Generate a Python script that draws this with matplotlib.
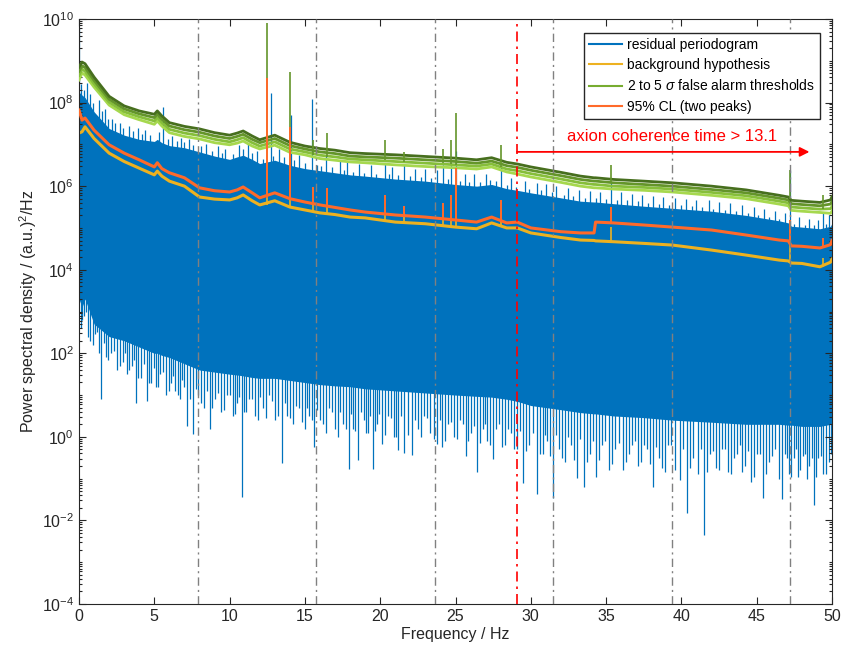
import numpy as np
import matplotlib
matplotlib.use("Agg")
import matplotlib.pyplot as plt
from matplotlib.lines import Line2D
from matplotlib.ticker import LogLocator, NullFormatter

plt.rcParams['font.family'] = ['Liberation Sans', 'DejaVu Sans']
plt.rcParams['mathtext.fontset'] = 'custom'
plt.rcParams['mathtext.rm'] = 'Liberation Sans'
plt.rcParams['mathtext.it'] = 'Liberation Sans:italic'

# ---------------- data (log10 of PSD) ----------------
freq_knots = [0, 0.2, 0.4, 1, 2, 3, 4, 5, 5.2, 5.5, 6, 7, 8, 9, 10, 10.5, 10.9, 11.5, 12, 13,
              14, 15, 16, 17, 18, 19, 21, 23, 25, 26.4, 27.4, 28.4, 29.1, 30, 32, 33.3, 34.2, 34.3,
              35.5, 37.5, 39.4, 42, 44.3, 46.5, 47.1, 47.3, 48, 49.2, 49.9, 50]

cl95_log = [7.82, 7.58, 7.63, 7.34, 6.99, 6.79, 6.63, 6.46, 6.56, 6.42, 6.32, 6.20, 5.96, 5.89, 5.86,
            5.91, 5.98, 5.84, 5.72, 5.84, 5.70, 5.62, 5.55, 5.49, 5.43, 5.38, 5.31, 5.26, 5.19, 5.14,
            5.26, 5.12, 5.14, 5.00, 4.91, 4.88, 4.88, 5.14, 5.12, 5.07, 5.02, 4.95, 4.83, 4.71, 4.69,
            4.57, 4.56, 4.52, 4.60, 4.70]

background_log = [7.27, 7.30, 7.42, 7.14, 6.79, 6.59, 6.43, 6.27, 6.36, 6.24, 6.12, 6.00, 5.74, 5.69,
                  5.67, 5.72, 5.79, 5.65, 5.55, 5.65, 5.50, 5.43, 5.36, 5.32, 5.26, 5.24, 5.14, 5.10,
                  5.02, 4.98, 5.12, 5.00, 5.00, 4.88, 4.77, 4.71, 4.70, 4.69, 4.67, 4.63, 4.59, 4.47,
                  4.35, 4.23, 4.21, 4.16, 4.15, 4.07, 4.18, 4.25]

thr5_log = [8.85, 8.97, 8.93, 8.61, 8.15, 7.92, 7.80, 7.72, 7.80, 7.68, 7.52, 7.43, 7.37, 7.28, 7.22,
            7.27, 7.32, 7.20, 7.11, 7.22, 7.05, 6.96, 6.90, 6.86, 6.80, 6.78, 6.75, 6.71, 6.67, 6.63,
            6.68, 6.57, 6.53, 6.46, 6.33, 6.24, 6.20, 6.20, 6.16, 6.12, 6.08, 6.00, 5.91, 5.78, 5.74,
            5.66, 5.64, 5.61, 5.67, 5.75]
thr4_log = [8.75, 8.88, 8.84, 8.53, 8.08, 7.85, 7.73, 7.64, 7.72, 7.60, 7.44, 7.35, 7.29, 7.20, 7.14,
            7.19, 7.24, 7.12, 7.04, 7.14, 6.97, 6.89, 6.82, 6.78, 6.72, 6.70, 6.67, 6.63, 6.59, 6.55,
            6.60, 6.49, 6.45, 6.38, 6.25, 6.16, 6.12, 6.12, 6.08, 6.04, 6.00, 5.92, 5.84, 5.71, 5.67,
            5.58, 5.56, 5.53, 5.57, 5.63]
thr3_log = [8.65, 8.80, 8.75, 8.45, 8.01, 7.78, 7.66, 7.56, 7.64, 7.52, 7.36, 7.27, 7.21, 7.12, 7.06,
            7.11, 7.16, 7.04, 6.96, 7.06, 6.89, 6.82, 6.74, 6.70, 6.65, 6.63, 6.59, 6.55, 6.51, 6.48,
            6.53, 6.41, 6.37, 6.30, 6.17, 6.08, 6.04, 6.04, 6.00, 5.97, 5.93, 5.85, 5.77, 5.64, 5.60,
            5.50, 5.48, 5.45, 5.46, 5.51]
thr2_log = [8.54, 8.71, 8.66, 8.37, 7.94, 7.71, 7.59, 7.48, 7.56, 7.44, 7.28, 7.19, 7.13, 7.04, 6.99,
            7.03, 7.08, 6.96, 6.89, 6.98, 6.81, 6.75, 6.66, 6.62, 6.58, 6.56, 6.51, 6.47, 6.44, 6.41,
            6.46, 6.34, 6.29, 6.22, 6.09, 6.00, 5.96, 5.96, 5.93, 5.90, 5.86, 5.78, 5.70, 5.57, 5.53,
            5.42, 5.40, 5.37, 5.35, 5.40]

pgram_top_log = [8.25, 8.18, 8.12, 7.78, 7.38, 7.22, 7.12, 7.07, 7.12, 7.04, 6.97, 6.92, 6.82, 6.72,
                 6.64, 6.70, 6.74, 6.64, 6.54, 6.62, 6.50, 6.42, 6.37, 6.32, 6.27, 6.24, 6.17, 6.12,
                 6.04, 6.00, 6.04, 5.94, 5.90, 5.84, 5.72, 5.64, 5.62, 5.62, 5.58, 5.52, 5.47, 5.40,
                 5.30, 5.17, 5.12, 5.04, 5.02, 4.98, 5.04, 5.12]
pgram_bottom_log = [3.3, 3.1, 3.3, 2.7, 2.4, 2.3, 2.15, 2.0, 2.0, 1.95, 1.9, 1.75, 1.6, 1.55, 1.5,
                    1.48, 1.46, 1.42, 1.4, 1.4, 1.35, 1.3, 1.25, 1.22, 1.2, 1.15, 1.1, 1.05, 1.0, 0.97,
                    0.95, 0.9, 0.85, 0.75, 0.65, 0.58, 0.55, 0.55, 0.5, 0.46, 0.4, 0.35, 0.3, 0.3, 0.28,
                    0.28, 0.25, 0.25, 0.3, 0.3]

# upward needles of the periodogram
up_f = [0.0, 0.12, 0.5, 0.75, 1.3, 1.7, 2.2, 2.7, 3.3, 3.9, 4.4, 5.6, 6.2, 6.8, 7.3, 8.4, 9.2, 9.7,
        10.6, 11.2, 11.8, 12.73, 13.3, 14.05, 14.6, 15.5, 16.4, 17.3, 17.8, 18.6, 19.4, 20.3, 20.8,
        21.6, 22.3, 23.0, 23.8, 24.2, 24.7, 25.0, 25.6, 26.2, 27.0, 28.0, 28.7, 29.6, 30.4, 31.0,
        31.7, 32.5, 33.2, 33.9, 34.6, 35.3, 36.0, 36.7, 37.4, 38.1, 38.8, 39.6, 40.3, 41.0, 41.8,
        42.5, 43.2, 44.0, 44.8, 45.5, 46.2, 46.9, 47.2, 47.8, 48.5, 49.1, 49.4, 49.8]
up_log = [9.78, 8.45, 8.47, 8.2, 8.05, 7.85, 7.6, 7.5, 7.45, 7.38, 7.35, 7.89, 7.2, 7.15, 7.12, 7.0,
          6.95, 6.9, 6.98, 7.0, 6.85, 8.23, 6.9, 7.70, 6.75, 8.09, 6.75, 6.6, 6.58, 6.52, 6.5, 6.55,
          6.45, 6.5, 6.42, 6.4, 6.38, 6.5, 6.55, 6.85, 6.3, 6.28, 6.3, 6.45, 6.2, 6.12, 6.08, 6.05,
          6.0, 5.95, 5.9, 5.88, 5.85, 6.1, 5.85, 5.82, 5.8, 5.76, 5.74, 5.72, 5.7, 5.68, 5.66, 5.62,
          5.6, 5.55, 5.5, 5.45, 5.4, 5.35, 6.39, 5.25, 5.22, 5.2, 5.35, 5.3]
up2_f = [0.3, 0.9, 1.5, 1.9, 2.4, 2.9, 3.6, 4.2, 4.7, 5.3, 5.9, 6.5, 7.0, 7.6, 8.1, 8.8, 9.5, 10.2,
         10.9, 11.5, 12.2, 12.9, 13.6, 14.3, 15.0, 15.8, 16.1, 16.8, 17.6, 18.2, 18.9, 19.7, 20.6,
         21.2, 22.0, 22.7, 23.4, 24.5, 25.3, 25.9, 26.6, 27.3, 27.7, 28.4, 29.0, 29.9, 30.7, 31.4,
         32.2, 32.8, 33.6, 34.3, 35.0, 35.7, 36.4, 37.1, 37.8, 38.5, 39.2, 40.0, 40.7, 41.4, 42.1,
         42.9, 43.6, 44.4, 45.1, 45.8, 46.5, 47.5, 48.2, 48.8, 49.6]
up2_log = [8.3, 8.0, 7.8, 7.6, 7.5, 7.38, 7.32, 7.25, 7.22, 7.3, 7.12, 7.08, 7.05, 6.98, 6.95, 6.85,
           6.8, 6.78, 6.9, 6.8, 6.65, 6.72, 6.7, 6.62, 6.55, 6.5, 6.48, 6.45, 6.38, 6.35, 6.32, 6.3,
           6.28, 6.27, 6.24, 6.22, 6.2, 6.18, 6.12, 6.1, 6.1, 6.14, 6.12, 6.02, 5.98, 5.92, 5.9,
           5.85, 5.8, 5.76, 5.72, 5.72, 5.7, 5.68, 5.66, 5.64, 5.6, 5.58, 5.56, 5.54, 5.52, 5.5,
           5.46, 5.44, 5.4, 5.36, 5.3, 5.26, 5.22, 5.1, 5.08, 5.06, 5.1]

# downward needles of the periodogram (deep ones)
down_f = [0.1, 0.3, 0.6, 0.9, 1.2, 1.46, 1.8, 2.1, 2.5, 2.9, 3.2, 3.5, 3.8, 4.1, 4.5, 4.8, 5.1, 5.4,
          5.8, 6.1, 6.4, 6.7, 7.0, 7.2, 7.6, 7.9, 8.3, 8.7, 9.0, 9.4, 9.8, 10.2, 10.5, 10.8, 11.1,
          11.5, 11.9, 12.2, 12.6, 13.0, 13.5, 13.8, 14.2, 14.6, 15.0, 15.3, 15.6, 16.0, 16.4, 16.8,
          17.2, 17.5, 17.9, 18.2, 18.5, 18.9, 19.2, 19.5, 19.8, 20.1, 20.5, 20.9, 21.2, 21.6, 22.1,
          22.5, 22.9, 23.3, 23.8, 24.1, 24.5, 24.9, 25.3, 25.7, 26.0, 26.4, 26.8, 27.1, 27.5, 27.9,
          28.3, 28.7, 29.1, 29.5, 29.9, 30.4, 30.8, 31.1, 31.5, 31.9, 32.3, 32.7, 33.1, 33.5, 33.9,
          34.3, 34.7, 35.2, 35.6, 36.1, 36.5, 36.9, 37.3, 37.7, 38.1, 38.5, 38.9, 39.3, 39.9, 40.4,
          40.8, 41.1, 41.5, 41.9, 42.3, 42.7, 43.1, 43.5, 43.9, 44.2, 44.6, 45.0, 45.4, 45.8, 46.2,
          46.7, 47.0, 47.3, 47.6, 47.9, 48.2, 48.5, 48.8, 49.1, 49.4, 49.8]
down_log = [2.6, 2.9, 2.4, 2.2, 2.5, 0.91, 1.9, 2.0, 1.6, 1.8, 1.5, 1.7, 0.82, 1.4, 0.86, 1.3, 1.2,
            1.5, 1.0, 1.3, 1.1, 0.9, 1.2, 0.27, 0.08, 1.0, 0.7, 0.2, 0.9, 0.6, 1.0, 0.5, 0.8, -1.44,
            0.6, 0.9, 0.4, 0.7, 1.0, 0.4, -0.62, 0.5, 0.3, 0.7, 0.2, 0.5, -0.25, 0.4, 0.1, 0.6, 0.0,
            0.3, -0.77, 0.2, -0.55, 0.4, 0.1, -0.77, 0.3, -0.16, 0.5, 0.0, -0.32, -0.39, -0.44, 0.2,
            0.5, 0.1, -0.16, -0.25, 0.3, 0.0, 0.4, -0.45, 0.1, -0.84, 0.2, -0.1, -0.54, 0.3, -0.2,
            0.1, -0.3, -1.1, -0.2, -1.36, -0.4, -0.1, -1.46, -0.3, -0.6, -0.2, -0.98, -1.2, -0.4,
            -0.97, -0.2, -0.8, -0.3, -0.8, -0.4, -0.1, -0.6, -0.3, -1.2, -0.5, -0.85, -0.2, -1.03,
            -1.82, -0.5, -0.9, -2.36, -0.4, -0.75, -0.3, -0.85, -0.5, -0.2, -0.7, -1.08, -0.4, -1.46,
            -0.6, -0.3, -1.49, -0.5, -0.95, -0.3, -0.8, -0.4, -0.7, -1.63, -0.5, -0.9, -0.6]
# shallow downward needles (fringe)
down2_f = [0.2, 0.45, 0.75, 1.05, 1.35, 1.65, 1.95, 2.3, 2.7, 3.05, 3.35, 3.65, 3.95, 4.3, 4.65,
           4.95, 5.25, 5.6, 5.95, 6.25, 6.55, 6.85, 7.4, 7.75, 8.1, 8.5, 8.85, 9.2, 9.6, 10.0, 10.35,
           10.65, 10.95, 11.3, 11.7, 12.05, 12.4, 12.8, 13.2, 13.65, 14.0, 14.4, 14.8, 15.15, 15.45,
           15.8, 16.2, 16.6, 17.0, 17.35, 17.7, 18.05, 18.35, 18.7, 19.05, 19.35, 19.65, 19.95, 20.3,
           20.7, 21.05, 21.4, 21.85, 22.3, 22.7, 23.1, 23.55, 23.95, 24.3, 24.7, 25.1, 25.5, 25.85,
           26.2, 26.6, 26.95, 27.3, 27.7, 28.1, 28.5, 28.9, 29.3, 29.7, 30.15, 30.6, 30.95, 31.3,
           31.7, 32.1, 32.5, 32.9, 33.3, 33.7, 34.1, 34.5, 34.95, 35.4, 35.85, 36.3, 36.7, 37.1,
           37.5, 37.9, 38.3, 38.7, 39.1, 39.6, 40.1, 40.6, 41.3, 41.7, 42.1, 42.5, 42.9, 43.3, 43.7,
           44.05, 44.4, 44.8, 45.2, 45.6, 46.0, 46.45, 46.9, 47.15, 47.45, 47.75, 48.05, 48.35,
           48.65, 48.95, 49.25, 49.6, 49.95]
down2_log = [2.8, 3.0, 2.3, 2.45, 2.0, 2.25, 1.85, 2.05, 1.7, 2.0,
             1.6, 1.85, 1.4, 1.75, 1.3, 1.65, 1.2, 1.55, 1.1, 1.45,
             1.0, 1.35, 0.9, 1.15, 0.8, 1.1, 0.7, 1.05, 0.65, 1.0,
             0.55, 0.95, 0.6, 0.9, 0.5, 0.95, 0.45, 0.85, 0.5, 0.8,
             0.45, 0.75, 0.35, 0.7, 0.4, 0.65, 0.3, 0.7, 0.2, 0.6,
             0.2, 0.55, 0.15, 0.6, 0.1, 0.5, 0.15, 0.55, 0.05, 0.45,
             0.0, 0.5, 0.05, 0.4, 0.0, 0.45, -0.05, 0.4, -0.1, 0.35,
             -0.05, 0.3, -0.1, 0.25, -0.15, 0.3, -0.2, 0.2, -0.25, 0.2,
             -0.3, 0.15, -0.35, 0.1, -0.4, 0.05, -0.45, 0.05, -0.5, 0.0,
             -0.55, -0.05, -0.6, -0.1, -0.55, -0.1, -0.65, -0.15, -0.6, -0.2,
             -0.7, -0.2, -0.65, -0.25, -0.75, -0.2, -0.8, -0.3, -0.75, -0.3,
             -0.85, -0.35, -0.8, -0.3, -0.9, -0.4, -0.85, -0.35, -0.95, -0.4,
             -0.9, -0.45, -1.0, -0.4, -0.9, -0.5, -0.95, -0.45, -1.0, -0.5,
             -0.95, -0.45, -0.9, -0.4]

# narrow line peaks (frequency, base and top in each curve)
peak_f = [12.46, 14.0, 15.55, 16.5, 20.3, 21.6, 24.2, 24.7, 25.0, 28.0, 35.3, 47.2, 49.4]
peak_thr_top = [9.90, 8.73, 7.10, 7.27, 7.11, 6.82, 6.89, 7.11, 7.75, 6.99, 6.51, 6.39, 5.80]
peak_thr_base = [7.0, 7.05, 6.75, 6.70, 6.62, 6.57, 6.55, 6.52, 6.50, 6.45, 6.10, 5.70, 5.45]
peak_cl_top = [8.59, 7.42, 5.98, 5.96, 5.79, 5.53, 5.60, 5.79, 6.44, 5.67, 5.50, 5.20, 4.76]
peak_cl_base = [5.72, 5.70, 5.58, 5.53, 5.33, 5.30, 5.22, 5.20, 5.19, 5.16, 5.12, 4.66, 4.52]
peak_bg_top = [8.30, 7.20, 5.70, 5.70, 5.50, 5.30, 5.35, 5.50, 6.10, 5.40, 5.02, 5.00, 4.28]
peak_bg_base = [5.55, 5.50, 5.40, 5.36, 5.18, 5.13, 5.05, 5.04, 5.02, 5.02, 4.67, 4.19, 4.07]

alarm_lines_f = [7.87, 15.74, 23.61, 31.48, 39.35, 47.22]
coherence_f = 29.08
coherence_label = 'axion coherence time > 13.1'
arrow_end_f = 48.5
arrow_log = 6.82
label_f = 39.4
label_log = 7.18

# ---------------- colours ----------------
c_blue = '#0072BD'
c_yellow = '#EDB120'
c_orange = '#FF6A2A'
c_greens = ['#A6D84E', '#86BE3A', '#64952A', '#476F1E']  # 2,3,4,5 sigma
c_axis = '#262626'

fig = plt.figure(figsize=(8.42, 6.52), dpi=100)
ax = fig.add_axes([79 / 842, 48 / 652, 753 / 842, 585 / 652])

def p(v):
    return np.power(10.0, np.asarray(v, dtype=float))

fk = np.asarray(freq_knots)

# periodogram body + needles
ax.fill_between(fk, p(pgram_bottom_log), p(pgram_top_log), color=c_blue, lw=0, zorder=1)
ax.vlines(down_f, p(down_log), 1e4, color=c_blue, lw=0.9, zorder=1)
ax.vlines(down2_f, p(down2_log), 1e4, color=c_blue, lw=0.9, zorder=1)
ax.vlines(up_f, 1e4, p(up_log), color=c_blue, lw=0.9, zorder=1)
ax.vlines(up2_f, 1e4, p(up2_log), color=c_blue, lw=0.9, zorder=1)

# background
ax.plot(fk, p(background_log), color=c_yellow, lw=2.2, zorder=2)
ax.vlines(peak_f, p(peak_bg_base), p(peak_bg_top), color=c_yellow, lw=1.2, zorder=2)

# thresholds
for arr, col in zip([thr2_log, thr3_log, thr4_log, thr5_log], c_greens):
    ax.plot(fk, p(arr), color=col, lw=2.0, zorder=3)
ax.vlines(peak_f, p(peak_thr_base), p(peak_thr_top), color=c_greens[2], lw=1.2, zorder=3)

# 95% CL
ax.plot(fk, p(cl95_log), color=c_orange, lw=2.2, zorder=4)
ax.vlines(peak_f, p(peak_cl_base), p(peak_cl_top), color=c_orange, lw=1.4, zorder=4)

# vertical marker lines
for f in alarm_lines_f:
    ax.axvline(f, color='#808080', lw=1.0, ls=(0, (6, 3, 1.5, 3)), zorder=5)
ax.axvline(coherence_f, color='red', lw=1.2, ls=(0, (6, 3, 1.5, 3)), zorder=6)

ax.annotate('', xy=(arrow_end_f, p(arrow_log)), xytext=(coherence_f, p(arrow_log)),
            arrowprops=dict(arrowstyle='-|>', color='red', lw=1.3, mutation_scale=14,
                            shrinkA=0, shrinkB=0), zorder=7)
ax.text(label_f, p(label_log), coherence_label, color='red', fontsize=12,
        ha='center', va='center', zorder=7)

# axes
ax.set_yscale('log')
ax.set_xlim(0, 50)
ax.set_ylim(1e-4, 1e10)
ax.set_xticks(np.arange(0, 51, 5))
ax.set_yticks([10.0 ** k for k in range(-4, 11, 2)])
ax.yaxis.set_minor_locator(LogLocator(base=10, subs=np.arange(1, 10), numticks=100))
ax.yaxis.set_minor_formatter(NullFormatter())
ax.tick_params(which='both', direction='in', top=True, right=True, colors=c_axis,
               labelsize=11.5, width=0.8)
ax.tick_params(which='major', length=5)
ax.tick_params(which='minor', length=2.5)
for s in ax.spines.values():
    s.set_color(c_axis)
    s.set_linewidth(0.8)

ax.set_xlabel('Frequency / Hz', fontsize=11.5, color=c_axis, labelpad=2)
ax.set_ylabel('Power spectral density / (a.u.)$^2$/Hz', fontsize=11.5, color=c_axis, labelpad=2)

handles = [Line2D([], [], color=c_blue, lw=1.5),
           Line2D([], [], color=c_yellow, lw=1.5),
           Line2D([], [], color='#77AC30', lw=1.5),
           Line2D([], [], color=c_orange, lw=1.5)]
labels = ['residual periodogram', 'background hypothesis',
          r'2 to 5 $\sigma$ false alarm thresholds', '95% CL (two peaks)']
leg = ax.legend(handles, labels, loc='upper right', bbox_to_anchor=(0.984, 0.976),
                borderaxespad=0, fontsize=10, handlelength=2.4, handletextpad=0.35,
                labelspacing=0.45, borderpad=0.35, fancybox=False, framealpha=1,
                edgecolor=c_axis)
leg.get_frame().set_linewidth(1.0)
leg.set_zorder(10)

fig.savefig('out.png', dpi=100)
